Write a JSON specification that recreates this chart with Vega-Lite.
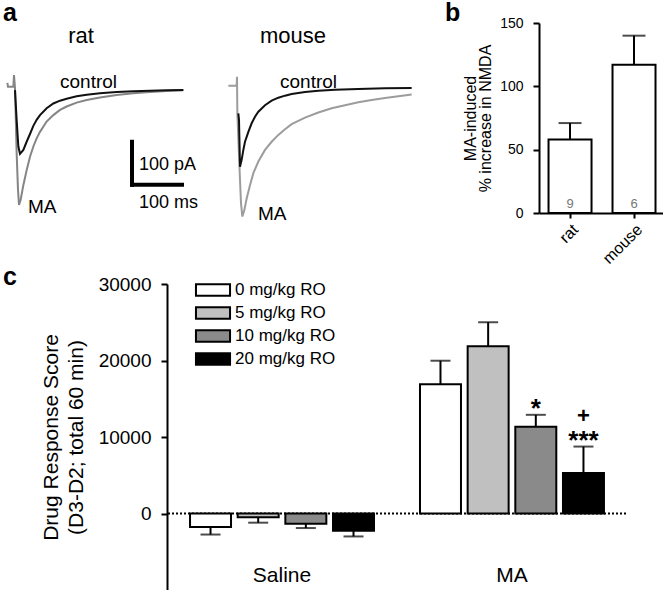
{
  "$schema": "https://vega.github.io/schema/vega-lite/v6.json",
  "autosize": {"type": "pad"},
  "padding": {"left": 3, "top": 1, "right": 0, "bottom": 0},
  "background": "white",
  "config": {
    "font": "Liberation Sans",
    "view": {"stroke": null},
    "axis": {"labelColor": "#000", "titleColor": "#000", "domainColor": "#000", "tickColor": "#000", "grid": false, "labelFont": "Liberation Sans", "titleFont": "Liberation Sans", "titleFontWeight": "normal"},
    "title": {"font": "Liberation Sans", "color": "#000"},
    "legend": {"labelFont": "Liberation Sans", "labelColor": "#000"}
  },
  "datasets": {
    "traces": [
      {"species": "rat", "condition": "MA", "t": -15.3, "I": 12},
      {"species": "rat", "condition": "MA", "t": -14, "I": 3},
      {"species": "rat", "condition": "MA", "t": -3.3, "I": 3},
      {"species": "rat", "condition": "MA", "t": -2, "I": 30},
      {"species": "rat", "condition": "MA", "t": 0, "I": 0},
      {"species": "rat", "condition": "MA", "t": 3.3, "I": -151},
      {"species": "rat", "condition": "MA", "t": 6, "I": -237},
      {"species": "rat", "condition": "MA", "t": 8, "I": -272},
      {"species": "rat", "condition": "MA", "t": 11.3, "I": -260},
      {"species": "rat", "condition": "MA", "t": 16.7, "I": -226},
      {"species": "rat", "condition": "MA", "t": 23.3, "I": -191},
      {"species": "rat", "condition": "MA", "t": 30, "I": -160},
      {"species": "rat", "condition": "MA", "t": 36.7, "I": -136},
      {"species": "rat", "condition": "MA", "t": 43.3, "I": -117},
      {"species": "rat", "condition": "MA", "t": 50, "I": -102},
      {"species": "rat", "condition": "MA", "t": 63.3, "I": -78},
      {"species": "rat", "condition": "MA", "t": 76.7, "I": -63},
      {"species": "rat", "condition": "MA", "t": 90, "I": -51},
      {"species": "rat", "condition": "MA", "t": 103.3, "I": -43},
      {"species": "rat", "condition": "MA", "t": 123.3, "I": -34},
      {"species": "rat", "condition": "MA", "t": 143.3, "I": -28},
      {"species": "rat", "condition": "MA", "t": 170, "I": -22},
      {"species": "rat", "condition": "MA", "t": 203.3, "I": -16},
      {"species": "rat", "condition": "MA", "t": 236.7, "I": -12},
      {"species": "rat", "condition": "MA", "t": 270, "I": -9},
      {"species": "rat", "condition": "MA", "t": 303.3, "I": -7},
      {"species": "rat", "condition": "MA", "t": 336.7, "I": -5},
      {"species": "rat", "condition": "control", "t": 0, "I": -5},
      {"species": "rat", "condition": "control", "t": 3.3, "I": -74},
      {"species": "rat", "condition": "control", "t": 6.7, "I": -136},
      {"species": "rat", "condition": "control", "t": 10, "I": -153},
      {"species": "rat", "condition": "control", "t": 16.7, "I": -144},
      {"species": "rat", "condition": "control", "t": 23.3, "I": -125},
      {"species": "rat", "condition": "control", "t": 30, "I": -107},
      {"species": "rat", "condition": "control", "t": 36.7, "I": -88},
      {"species": "rat", "condition": "control", "t": 43.3, "I": -74},
      {"species": "rat", "condition": "control", "t": 50, "I": -63},
      {"species": "rat", "condition": "control", "t": 63.3, "I": -47},
      {"species": "rat", "condition": "control", "t": 76.7, "I": -36},
      {"species": "rat", "condition": "control", "t": 90, "I": -29.5},
      {"species": "rat", "condition": "control", "t": 103.3, "I": -24.8},
      {"species": "rat", "condition": "control", "t": 123.3, "I": -19.4},
      {"species": "rat", "condition": "control", "t": 143.3, "I": -15.5},
      {"species": "rat", "condition": "control", "t": 170, "I": -12.4},
      {"species": "rat", "condition": "control", "t": 203.3, "I": -9.3},
      {"species": "rat", "condition": "control", "t": 236.7, "I": -7.8},
      {"species": "rat", "condition": "control", "t": 270, "I": -6.2},
      {"species": "rat", "condition": "control", "t": 303.3, "I": -5.4},
      {"species": "rat", "condition": "control", "t": 336.7, "I": -4.7},
      {"species": "mouse", "condition": "MA", "t": -17.3, "I": 5},
      {"species": "mouse", "condition": "MA", "t": -0.7, "I": 5},
      {"species": "mouse", "condition": "MA", "t": 0, "I": 26},
      {"species": "mouse", "condition": "MA", "t": 0.7, "I": -59},
      {"species": "mouse", "condition": "MA", "t": 6, "I": -214},
      {"species": "mouse", "condition": "MA", "t": 8, "I": -268},
      {"species": "mouse", "condition": "MA", "t": 10.7, "I": -299},
      {"species": "mouse", "condition": "MA", "t": 14.7, "I": -284},
      {"species": "mouse", "condition": "MA", "t": 19.3, "I": -257},
      {"species": "mouse", "condition": "MA", "t": 26, "I": -226},
      {"species": "mouse", "condition": "MA", "t": 32.7, "I": -198},
      {"species": "mouse", "condition": "MA", "t": 42.7, "I": -171},
      {"species": "mouse", "condition": "MA", "t": 56, "I": -144},
      {"species": "mouse", "condition": "MA", "t": 69.3, "I": -125},
      {"species": "mouse", "condition": "MA", "t": 82.7, "I": -109},
      {"species": "mouse", "condition": "MA", "t": 96, "I": -96},
      {"species": "mouse", "condition": "MA", "t": 109.3, "I": -84},
      {"species": "mouse", "condition": "MA", "t": 136, "I": -69},
      {"species": "mouse", "condition": "MA", "t": 162.7, "I": -57},
      {"species": "mouse", "condition": "MA", "t": 189.3, "I": -47},
      {"species": "mouse", "condition": "MA", "t": 216, "I": -40},
      {"species": "mouse", "condition": "MA", "t": 242.7, "I": -33},
      {"species": "mouse", "condition": "MA", "t": 269.3, "I": -28},
      {"species": "mouse", "condition": "MA", "t": 296, "I": -23},
      {"species": "mouse", "condition": "MA", "t": 322.7, "I": -19},
      {"species": "mouse", "condition": "MA", "t": 349.3, "I": -15},
      {"species": "mouse", "condition": "control", "t": 2.7, "I": -59},
      {"species": "mouse", "condition": "control", "t": 4, "I": -74},
      {"species": "mouse", "condition": "control", "t": 6, "I": -183},
      {"species": "mouse", "condition": "control", "t": 9.3, "I": -167},
      {"species": "mouse", "condition": "control", "t": 12.7, "I": -144},
      {"species": "mouse", "condition": "control", "t": 16, "I": -125},
      {"species": "mouse", "condition": "control", "t": 22.7, "I": -102},
      {"species": "mouse", "condition": "control", "t": 29.3, "I": -82},
      {"species": "mouse", "condition": "control", "t": 36, "I": -67},
      {"species": "mouse", "condition": "control", "t": 42.7, "I": -55},
      {"species": "mouse", "condition": "control", "t": 56, "I": -40},
      {"species": "mouse", "condition": "control", "t": 69.3, "I": -29.5},
      {"species": "mouse", "condition": "control", "t": 82.7, "I": -22.5},
      {"species": "mouse", "condition": "control", "t": 96, "I": -17.8},
      {"species": "mouse", "condition": "control", "t": 109.3, "I": -14},
      {"species": "mouse", "condition": "control", "t": 136, "I": -9.3},
      {"species": "mouse", "condition": "control", "t": 162.7, "I": -6.2},
      {"species": "mouse", "condition": "control", "t": 196, "I": -3.9},
      {"species": "mouse", "condition": "control", "t": 242.7, "I": -2.3},
      {"species": "mouse", "condition": "control", "t": 296, "I": -0.8},
      {"species": "mouse", "condition": "control", "t": 349.3, "I": 0}
    ],
    "scalebar": [
      {"t": 234, "I": -225, "t2": 234, "I2": -125},
      {"t": 234, "I": -225, "t2": 334, "I2": -225}
    ],
    "annotations": [
      {"panel": "rat", "role": "heading", "text": "rat", "t": 132, "I": 121},
      {"panel": "mouse", "role": "heading", "text": "mouse", "t": 112, "I": 121},
      {"panel": "rat", "role": "trace", "text": "control", "t": 90, "I": 13},
      {"panel": "rat", "role": "trace", "text": "MA", "t": 26, "I": -277},
      {"panel": "mouse", "role": "trace", "text": "control", "t": 86, "I": 14},
      {"panel": "mouse", "role": "trace", "text": "MA", "t": 42, "I": -293},
      {"panel": "rat", "role": "scale", "text": "100 pA", "t": 248, "I": -179},
      {"panel": "rat", "role": "scale", "text": "100 ms", "t": 248, "I": -267}
    ],
    "nmda": [
      {"species": "rat", "increase": 58, "upper": 71, "n": 9},
      {"species": "mouse", "increase": 117, "upper": 140, "n": 6}
    ],
    "behavior": [
      {"treatment": "Saline", "dose": "0 mg/kg RO", "score": -1750, "err": -2750, "vsVehicle": "", "vsLowDose": ""},
      {"treatment": "Saline", "dose": "5 mg/kg RO", "score": -500, "err": -1200, "vsVehicle": "", "vsLowDose": ""},
      {"treatment": "Saline", "dose": "10 mg/kg RO", "score": -1350, "err": -1900, "vsVehicle": "", "vsLowDose": ""},
      {"treatment": "Saline", "dose": "20 mg/kg RO", "score": -2250, "err": -3000, "vsVehicle": "", "vsLowDose": ""},
      {"treatment": "MA", "dose": "0 mg/kg RO", "score": 16900, "err": 19970, "vsVehicle": "", "vsLowDose": ""},
      {"treatment": "MA", "dose": "5 mg/kg RO", "score": 21850, "err": 25000, "vsVehicle": "", "vsLowDose": ""},
      {"treatment": "MA", "dose": "10 mg/kg RO", "score": 11350, "err": 12900, "vsVehicle": "*", "vsLowDose": ""},
      {"treatment": "MA", "dose": "20 mg/kg RO", "score": 5300, "err": 8750, "vsVehicle": "***", "vsLowDose": "+"}
    ],
    "zeroline": [{"level": 0}]
  },
  "spacing": -2,
  "columns": 1,
  "align": "none",
  "resolve": {"scale": {"fill": "independent"}, "legend": {"fill": "independent"}},
  "concat": [
    {
      "spacing": 0,
      "hconcat": [
        {
          "width": 217,
          "height": 210,
          "title": {"text": "a", "anchor": "start", "frame": "group", "fontSize": 25, "fontWeight": "bold", "baseline": "alphabetic", "offset": -23, "color": "#000"},
          "encoding": {
            "x": {"field": "t", "type": "quantitative", "scale": {"domain": [-24, 410], "nice": false, "zero": false}, "axis": null},
            "y": {"field": "I", "type": "quantitative", "scale": {"domain": [-337.2, 151.2], "nice": false, "zero": false}, "axis": null}
          },
          "layer": [
            {"data": {"name": "traces"}, "transform": [{"filter": "datum.species === 'rat' && datum.condition === 'MA'"}], "mark": {"type": "line", "color": "#858585", "strokeWidth": 2}, "encoding": {"order": {"field": "t", "type": "quantitative"}}},
            {"data": {"name": "traces"}, "transform": [{"filter": "datum.species === 'rat' && datum.condition === 'control'"}], "mark": {"type": "line", "color": "#111111", "strokeWidth": 2}, "encoding": {"order": {"field": "t", "type": "quantitative"}}},
            {"data": {"name": "scalebar"}, "mark": {"type": "rule", "color": "#000", "strokeWidth": 4, "strokeCap": "square"}, "encoding": {"x2": {"field": "t2"}, "y2": {"field": "I2"}}},
            {"data": {"name": "annotations"}, "transform": [{"filter": "datum.panel === 'rat' && datum.role === 'heading'"}], "mark": {"type": "text", "fontSize": 22, "align": "center", "baseline": "middle", "color": "#000"}, "encoding": {"text": {"field": "text"}}},
            {"data": {"name": "annotations"}, "transform": [{"filter": "datum.panel === 'rat' && datum.role === 'trace'"}], "mark": {"type": "text", "fontSize": 19, "align": "left", "baseline": "middle", "color": "#000"}, "encoding": {"text": {"field": "text"}}},
            {"data": {"name": "annotations"}, "transform": [{"filter": "datum.panel === 'rat' && datum.role === 'scale'"}], "mark": {"type": "text", "fontSize": 18, "align": "left", "baseline": "middle", "color": "#000"}, "encoding": {"text": {"field": "text"}}}
          ]
        },
        {
          "width": 225,
          "height": 210,
          "encoding": {
            "x": {"field": "t", "type": "quantitative", "scale": {"domain": [-34, 416], "nice": false, "zero": false}, "axis": null},
            "y": {"field": "I", "type": "quantitative", "scale": {"domain": [-337.2, 151.2], "nice": false, "zero": false}, "axis": null}
          },
          "layer": [
            {"data": {"name": "traces"}, "transform": [{"filter": "datum.species === 'mouse' && datum.condition === 'MA'"}], "mark": {"type": "line", "color": "#9c9c9c", "strokeWidth": 2}, "encoding": {"order": {"field": "t", "type": "quantitative"}}},
            {"data": {"name": "traces"}, "transform": [{"filter": "datum.species === 'mouse' && datum.condition === 'control'"}], "mark": {"type": "line", "color": "#111111", "strokeWidth": 2}, "encoding": {"order": {"field": "t", "type": "quantitative"}}},
            {"data": {"name": "annotations"}, "transform": [{"filter": "datum.panel === 'mouse' && datum.role === 'heading'"}], "mark": {"type": "text", "fontSize": 22, "align": "center", "baseline": "middle", "color": "#000"}, "encoding": {"text": {"field": "text"}}},
            {"data": {"name": "annotations"}, "transform": [{"filter": "datum.panel === 'mouse' && datum.role === 'trace'"}], "mark": {"type": "text", "fontSize": 19, "align": "left", "baseline": "middle", "color": "#000"}, "encoding": {"text": {"field": "text"}}}
          ]
        },
        {
          "width": 124,
          "height": 190,
          "title": {"text": "b", "anchor": "start", "frame": "group", "fontSize": 25, "fontWeight": "bold", "baseline": "alphabetic", "offset": -30, "dx": -94, "color": "#000"},
          "data": {"name": "nmda"},
          "encoding": {
            "x": {"field": "species", "type": "nominal", "sort": ["rat", "mouse"], "scale": {"paddingInner": 0.328, "paddingOuter": 0.133, "align": 0.56}, "axis": {"title": null, "labelAngle": -45, "labelFontSize": 16, "tickSize": 5, "tickWidth": 2, "domainWidth": 2, "labelPadding": 3}}
          },
          "layer": [
            {"mark": {"type": "bar", "fill": "#ffffff", "stroke": "#000", "strokeWidth": 2}, "encoding": {"y": {"field": "increase", "type": "quantitative", "scale": {"domain": [0, 150], "nice": false}, "axis": {"title": ["MA-induced", "% increase in NMDA"], "values": [0, 50, 100, 150], "labelFontSize": 14, "titleFontSize": 16, "titleLineHeight": 15, "tickSize": 6, "tickWidth": 2, "domainWidth": 2, "labelPadding": 10, "titlePadding": 6}}}},
            {"mark": {"type": "rule", "color": "#000", "strokeWidth": 2}, "encoding": {"y": {"field": "increase", "type": "quantitative", "scale": {"domain": [0, 150], "nice": false}, "axis": {"title": ["MA-induced", "% increase in NMDA"], "values": [0, 50, 100, 150], "labelFontSize": 14, "titleFontSize": 16, "titleLineHeight": 15, "tickSize": 6, "tickWidth": 2, "domainWidth": 2, "labelPadding": 10, "titlePadding": 6}}, "y2": {"field": "upper"}}},
            {"mark": {"type": "tick", "color": "#000", "thickness": 2, "size": 23}, "encoding": {"y": {"field": "upper", "type": "quantitative", "scale": {"domain": [0, 150], "nice": false}, "axis": {"title": ["MA-induced", "% increase in NMDA"], "values": [0, 50, 100, 150], "labelFontSize": 14, "titleFontSize": 16, "titleLineHeight": 15, "tickSize": 6, "tickWidth": 2, "domainWidth": 2, "labelPadding": 10, "titlePadding": 6}}}},
            {"mark": {"type": "text", "color": "#777777", "fontSize": 13, "baseline": "alphabetic", "dy": -5}, "encoding": {"y": {"datum": 0, "type": "quantitative"}, "text": {"field": "n", "type": "nominal"}}}
          ]
        }
      ]
    },
    {
      "spacing": 0,
      "resolve": {"scale": {"fill": "independent"}, "legend": {"fill": "independent"}},
      "hconcat": [
        {
          "width": 37,
          "height": 306,
          "title": {"text": "c", "anchor": "start", "frame": "group", "fontSize": 25, "fontWeight": "bold", "baseline": "alphabetic", "offset": -26, "color": "#000"},
          "data": {"values": []},
          "mark": "point",
          "encoding": {}
        },
        {
          "width": 459,
          "height": 306,
          "layer": [
            {"data": {"name": "zeroline"}, "mark": {"type": "rule", "color": "#000", "strokeWidth": 2, "strokeDash": [2, 2]}, "encoding": {"y": {"field": "level", "type": "quantitative", "scale": {"domain": [-10000, 30000], "nice": false}, "axis": {"title": ["Drug Response Score", "(D3-D2; total 60 min)"], "values": [0, 10000, 20000, 30000], "format": "d", "labelFontSize": 19, "titleFontSize": 21, "titleLineHeight": 25, "tickSize": 6, "tickWidth": 2, "domainWidth": 2, "labelPadding": 10, "titlePadding": 12}}}},
            {"data": {"name": "behavior"}, "mark": {"type": "bar", "stroke": "#000", "strokeWidth": 2},
             "encoding": {
               "x": {"field": "treatment", "type": "nominal", "sort": ["Saline", "MA"], "scale": {"paddingInner": 0.2, "paddingOuter": 0.098, "align": 0.511}, "axis": {"title": null, "domain": false, "ticks": false, "labelAngle": 0, "labelFontSize": 21, "offset": -26, "labelPadding": 0}},
               "xOffset": {"field": "dose", "type": "nominal", "sort": ["0 mg/kg RO", "5 mg/kg RO", "10 mg/kg RO", "20 mg/kg RO"], "scale": {"paddingInner": 0.14, "paddingOuter": 0}},
               "y": {"field": "score", "type": "quantitative", "stack": null, "scale": {"domain": [-10000, 30000], "nice": false}, "axis": {"title": ["Drug Response Score", "(D3-D2; total 60 min)"], "values": [0, 10000, 20000, 30000], "format": "d", "labelFontSize": 19, "titleFontSize": 21, "titleLineHeight": 25, "tickSize": 6, "tickWidth": 2, "domainWidth": 2, "labelPadding": 10, "titlePadding": 12}},
               "fill": {"field": "dose", "type": "nominal", "scale": {"domain": ["0 mg/kg RO", "5 mg/kg RO", "10 mg/kg RO", "20 mg/kg RO"], "range": ["#ffffff", "#c0c0c0", "#8a8a8a", "#000000"]},
                 "legend": {"orient": "none", "legendX": 33, "legendY": -7, "title": null, "symbolType": "M-1.42,-0.48H1.42V0.48H-1.42Z", "symbolSize": 576, "symbolStrokeColor": "#000", "symbolStrokeWidth": 2, "labelFontSize": 17, "labelOffset": 9, "rowPadding": 0, "padding": 0}}
             }},
            {"data": {"name": "behavior"}, "mark": {"type": "rule", "color": "#000", "strokeWidth": 2},
             "encoding": {
               "x": {"field": "treatment", "type": "nominal", "sort": ["Saline", "MA"]},
               "xOffset": {"field": "dose", "type": "nominal", "sort": ["0 mg/kg RO", "5 mg/kg RO", "10 mg/kg RO", "20 mg/kg RO"]},
               "y": {"field": "score", "type": "quantitative", "stack": null},
               "y2": {"field": "err"}
             }},
            {"data": {"name": "behavior"}, "mark": {"type": "tick", "color": "#000", "thickness": 2, "size": 20},
             "encoding": {
               "x": {"field": "treatment", "type": "nominal", "sort": ["Saline", "MA"]},
               "xOffset": {"field": "dose", "type": "nominal", "sort": ["0 mg/kg RO", "5 mg/kg RO", "10 mg/kg RO", "20 mg/kg RO"]},
               "y": {"field": "err", "type": "quantitative"}
             }},
            {"data": {"name": "behavior"}, "transform": [{"filter": "datum.vsVehicle !== ''"}], "mark": {"type": "text", "color": "#000", "fontSize": 26, "fontWeight": "bold", "baseline": "alphabetic", "dy": 2},
             "encoding": {
               "x": {"field": "treatment", "type": "nominal", "sort": ["Saline", "MA"]},
               "xOffset": {"field": "dose", "type": "nominal", "sort": ["0 mg/kg RO", "5 mg/kg RO", "10 mg/kg RO", "20 mg/kg RO"]},
               "y": {"field": "err", "type": "quantitative"},
               "text": {"field": "vsVehicle"}
             }},
            {"data": {"name": "behavior"}, "transform": [{"filter": "datum.vsLowDose !== ''"}], "mark": {"type": "text", "color": "#000", "fontSize": 22, "fontWeight": "bold", "baseline": "alphabetic", "dy": -24},
             "encoding": {
               "x": {"field": "treatment", "type": "nominal", "sort": ["Saline", "MA"]},
               "xOffset": {"field": "dose", "type": "nominal", "sort": ["0 mg/kg RO", "5 mg/kg RO", "10 mg/kg RO", "20 mg/kg RO"]},
               "y": {"field": "err", "type": "quantitative"},
               "text": {"field": "vsLowDose"}
             }}
          ]
        }
      ]
    }
  ]
}
